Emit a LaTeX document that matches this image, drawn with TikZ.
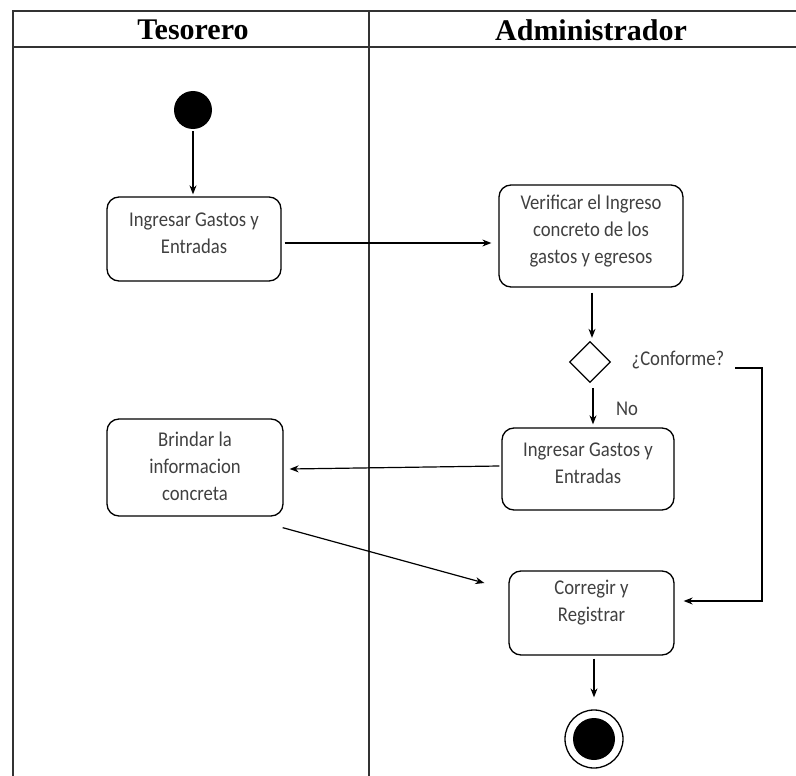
\documentclass[tikz,border=0pt]{standalone}
\usepackage{fontspec}
\setmainfont{Carlito}
\newfontfamily\titlefont{Liberation Serif}
\newfontfamily\boxfont[FakeStretch=0.89]{Carlito}
\usetikzlibrary{shapes.geometric,arrows.meta,calc}
\begin{document}
\begin{tikzpicture}[x=1pt,y=-1pt,
  frame/.style={line width=1.4pt,draw=black!80},
  actbox/.style={draw,line width=1.3pt,rounded corners=12pt,inner sep=0pt},
  boxtext/.style={font=\boxfont\fontsize{21}{27}\selectfont,align=center,text=black!75},
  ttl/.style={font=\titlefont\bfseries\fontsize{30}{32}\selectfont},
  arr/.style={line width=1.2pt,-{Stealth[length=9pt,width=7pt]}},
  lbl/.style={font=\boxfont\fontsize{21}{24}\selectfont,text=black!75}]
\useasboundingbox (0,0) rectangle (796,776);
% swimlane frame
\coordinate (tl) at (13,11);
\coordinate (tr) at (796,11);
\coordinate (hl) at (13,47);
\coordinate (hr) at (796,47);
\coordinate (bl) at (13,776);
\coordinate (dt) at (369,11);
\coordinate (db) at (369,776);
\draw[frame] (tr) -- (tl) -- (bl);
\draw[frame] (hl) -- (hr);
\draw[frame] (dt) -- (db);
\node[ttl] (t1) at (193,30) {Tesorero};
\node[ttl] (t2) at (591,30) {Administrador};
% start
\node[circle,fill=black,minimum size=38pt,inner sep=0pt] (start) at (193,110) {};
% boxes
\node[actbox,minimum width=174pt,minimum height=84pt,
  label={[boxtext,yshift=6pt]center:Ingresar Gastos y\\Entradas}] (b1) at (194,239) {};
\node[actbox,minimum width=184pt,minimum height=102pt,
  label={[boxtext,yshift=5pt]center:Verificar el Ingreso\\concreto de los\\gastos y egresos}] (b2) at (591,236) {};
\node[draw,diamond,line width=1.3pt,minimum width=41pt,minimum height=41pt,inner sep=0pt] (d) at (590,362) {};
\node[lbl] (conf) at (678,360) {¿Conforme?};
\node[lbl] (no) at (627,409) {No};
\node[actbox,minimum width=172pt,minimum height=82pt,
  label={[boxtext,yshift=6pt]center:Ingresar Gastos y\\Entradas}] (b3) at (588,469) {};
\node[actbox,minimum width=176pt,minimum height=97pt,
  label={[boxtext,yshift=1pt]center:Brindar la\\informacion\\concreta}] (b4) at (195,467.5) {};
\node[actbox,minimum width=165pt,minimum height=84pt,
  label={[boxtext,yshift=10pt]center:Corregir y\\Registrar}] (b5) at (591.5,613) {};
% end
\node[circle,draw,line width=1.3pt,minimum size=58pt,inner sep=0pt] (endo) at (594,739) {};
\node[circle,fill=black,minimum size=42pt,inner sep=0pt] (endi) at (594,739) {};
% connectors
\draw[arr] ($(start.south)+(0,2)$) -- ($(b1.north)+(-1,-2)$);
\draw[arr] ($(b1.east)+(3,4)$) -- ($(b2.west)+(-7,7)$);
\draw[arr] ($(b2.south)+(1,5)$) -- ($(d.north)+(2,-3)$);
\draw[arr] ($(d.south)+(3,5)$) -- ($(b3.north)+(5,-3)$);
\draw[arr] ($(b3.west)+(-2,-3)$) -- ($(b4.east)+(6,1.5)$);
\draw[arr] ($(b4.south east)+(-1,11)$) -- ($(b5.west)+(-24,-30)$);
\coordinate (c1) at (735,368);
\coordinate (c2) at (762,601);
\draw[arr] (c1) -| (c2) -- ($(b5.east |- c2)+(9,0)$);
\draw[arr] ($(b5.south)+(2.5,3)$) -- ($(endo.north)+(0,-12)$);
\end{tikzpicture}
\end{document}
